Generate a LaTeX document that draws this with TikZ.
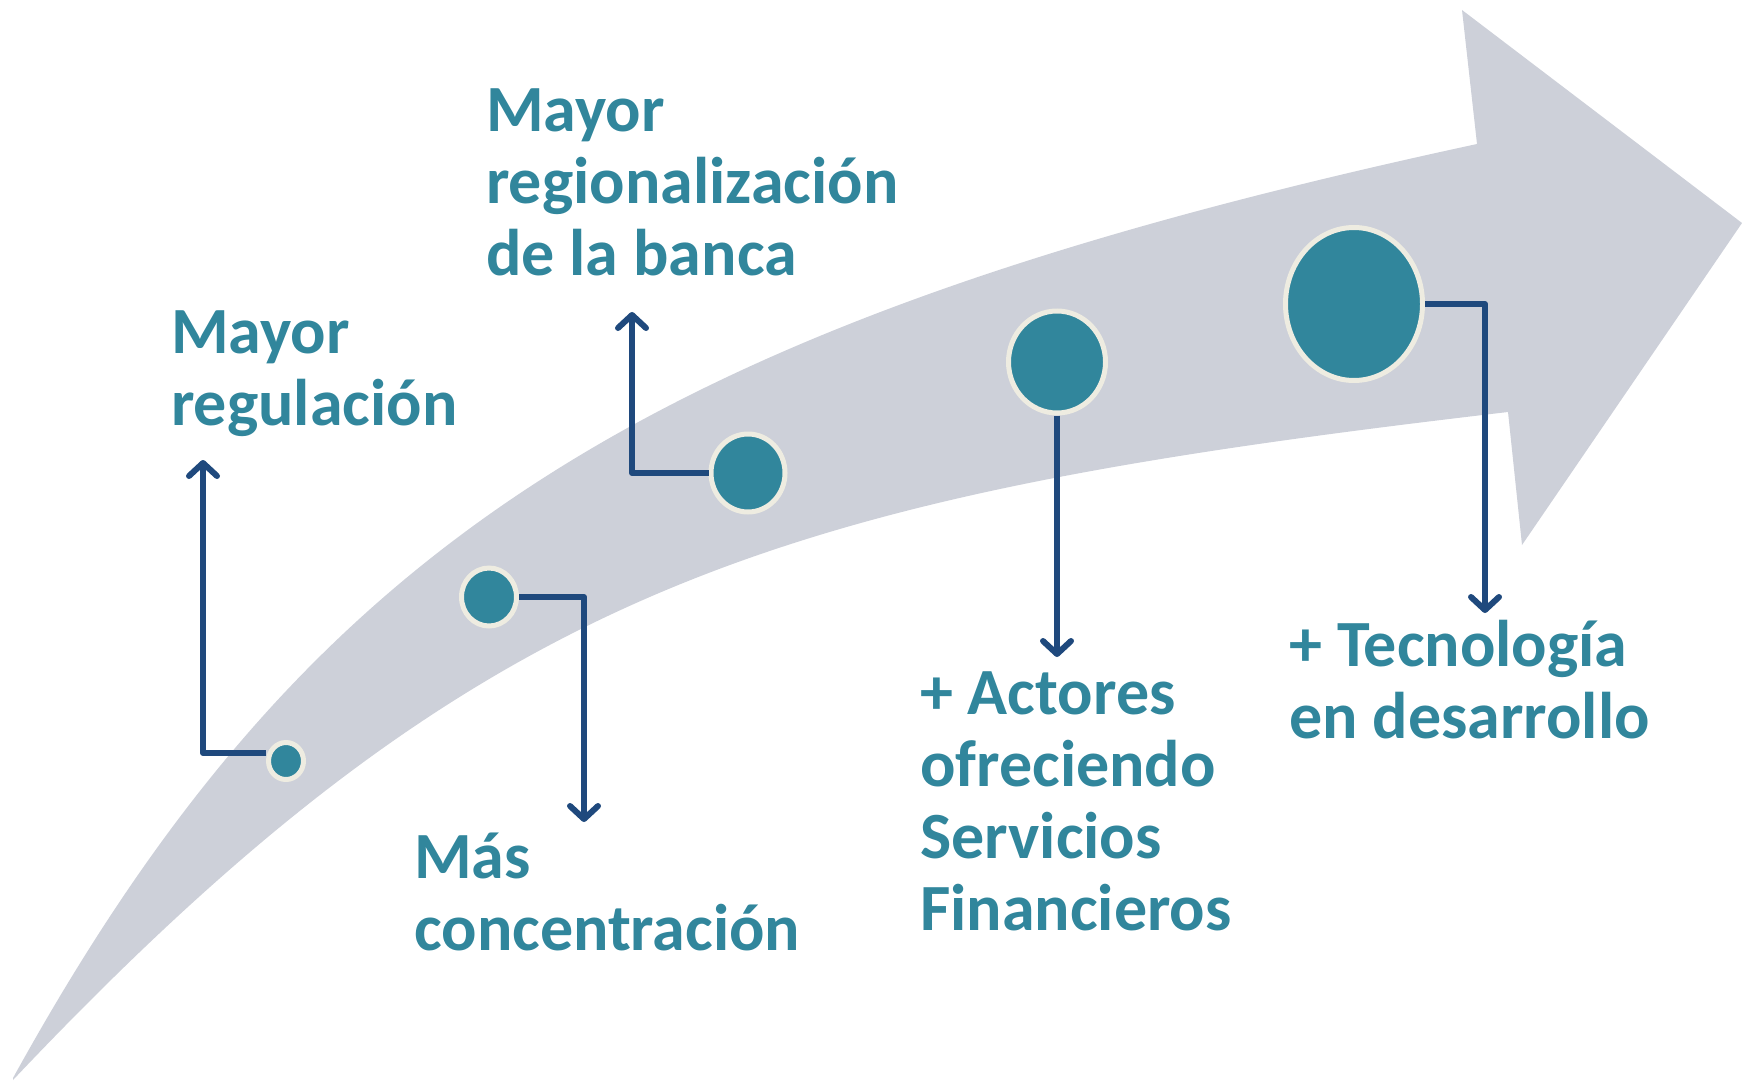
\documentclass[tikz,border=0pt]{standalone}
\usepackage{fontspec}
\setmainfont{Carlito}
\usetikzlibrary{shapes.geometric,arrows.meta}
\definecolor{arrowgray}{HTML}{CDD0D9}
\definecolor{tealdot}{HTML}{31869C}
\definecolor{creamrim}{HTML}{EEECE1}
\definecolor{navyline}{HTML}{1F497D}
\begin{document}
\begin{tikzpicture}[x=1pt,y=-1pt,
  dot/.style={ellipse, fill=tealdot, draw=creamrim, line width=5pt, inner sep=0pt},
  conn/.style={draw=navyline, line width=6pt, line join=round,
    -{Straight Barb[length=13pt,width=28pt,round]}},
  lbl/.style={anchor=base west, inner sep=0pt, align=left, text=tealdot,
    font=\bfseries\fontsize{66}{72}\selectfont}]
\useasboundingbox (0,0) rectangle (1742,1081);
% big curved arrow
\fill[arrowgray] (13,1078) .. controls (305,549) and (637,325) .. (1477,144)
  -- (1462,10) -- (1742,223) -- (1522,545) -- (1508,412)
  .. controls (781,497) and (486,580) .. (13,1080) -- cycle;
% dots
\node[dot, minimum width=35pt, minimum height=37pt] (c1) at (286,761) {};
\node[dot, minimum width=55pt, minimum height=58pt] (c2) at (489,597) {};
\node[dot, minimum width=74pt, minimum height=78pt] (c3) at (748,473) {};
\node[dot, minimum width=97pt, minimum height=102pt] (c4) at (1057,362) {};
\node[dot, minimum width=137pt, minimum height=153pt] (c5) at (1354,304) {};
% arrow targets
\coordinate (t1) at (203,460);
\coordinate (t2) at (584,822);
\coordinate (t3) at (632,312);
\coordinate (t4) at (1057,657);
\coordinate (t5) at (1485,613);
% connectors
\draw[conn] ([yshift=8pt]c1.west) -| (t1);
\draw[conn] (c2.east) -| (t2);
\draw[conn] (c3.west) -| (t3);
\draw[conn] (c4.south) -- (t4);
\draw[conn] (c5.east) -| (t5);
% labels (anchored at the baseline of the last line)
\node[lbl] (l1) at (171,425) {Mayor\\regulación};
\node[lbl] (l2) at (486,275) {Mayor\\regionalización\\de la banca};
\node[lbl] (l3) at (414,950) {Más\\concentración};
\node[lbl] (l4) at (920,930) {+ Actores\\ofreciendo\\Servicios\\Financieros};
\node[lbl] (l5) at (1289,738) {+ Tecnología\\en desarrollo};
\end{tikzpicture}
\end{document}
